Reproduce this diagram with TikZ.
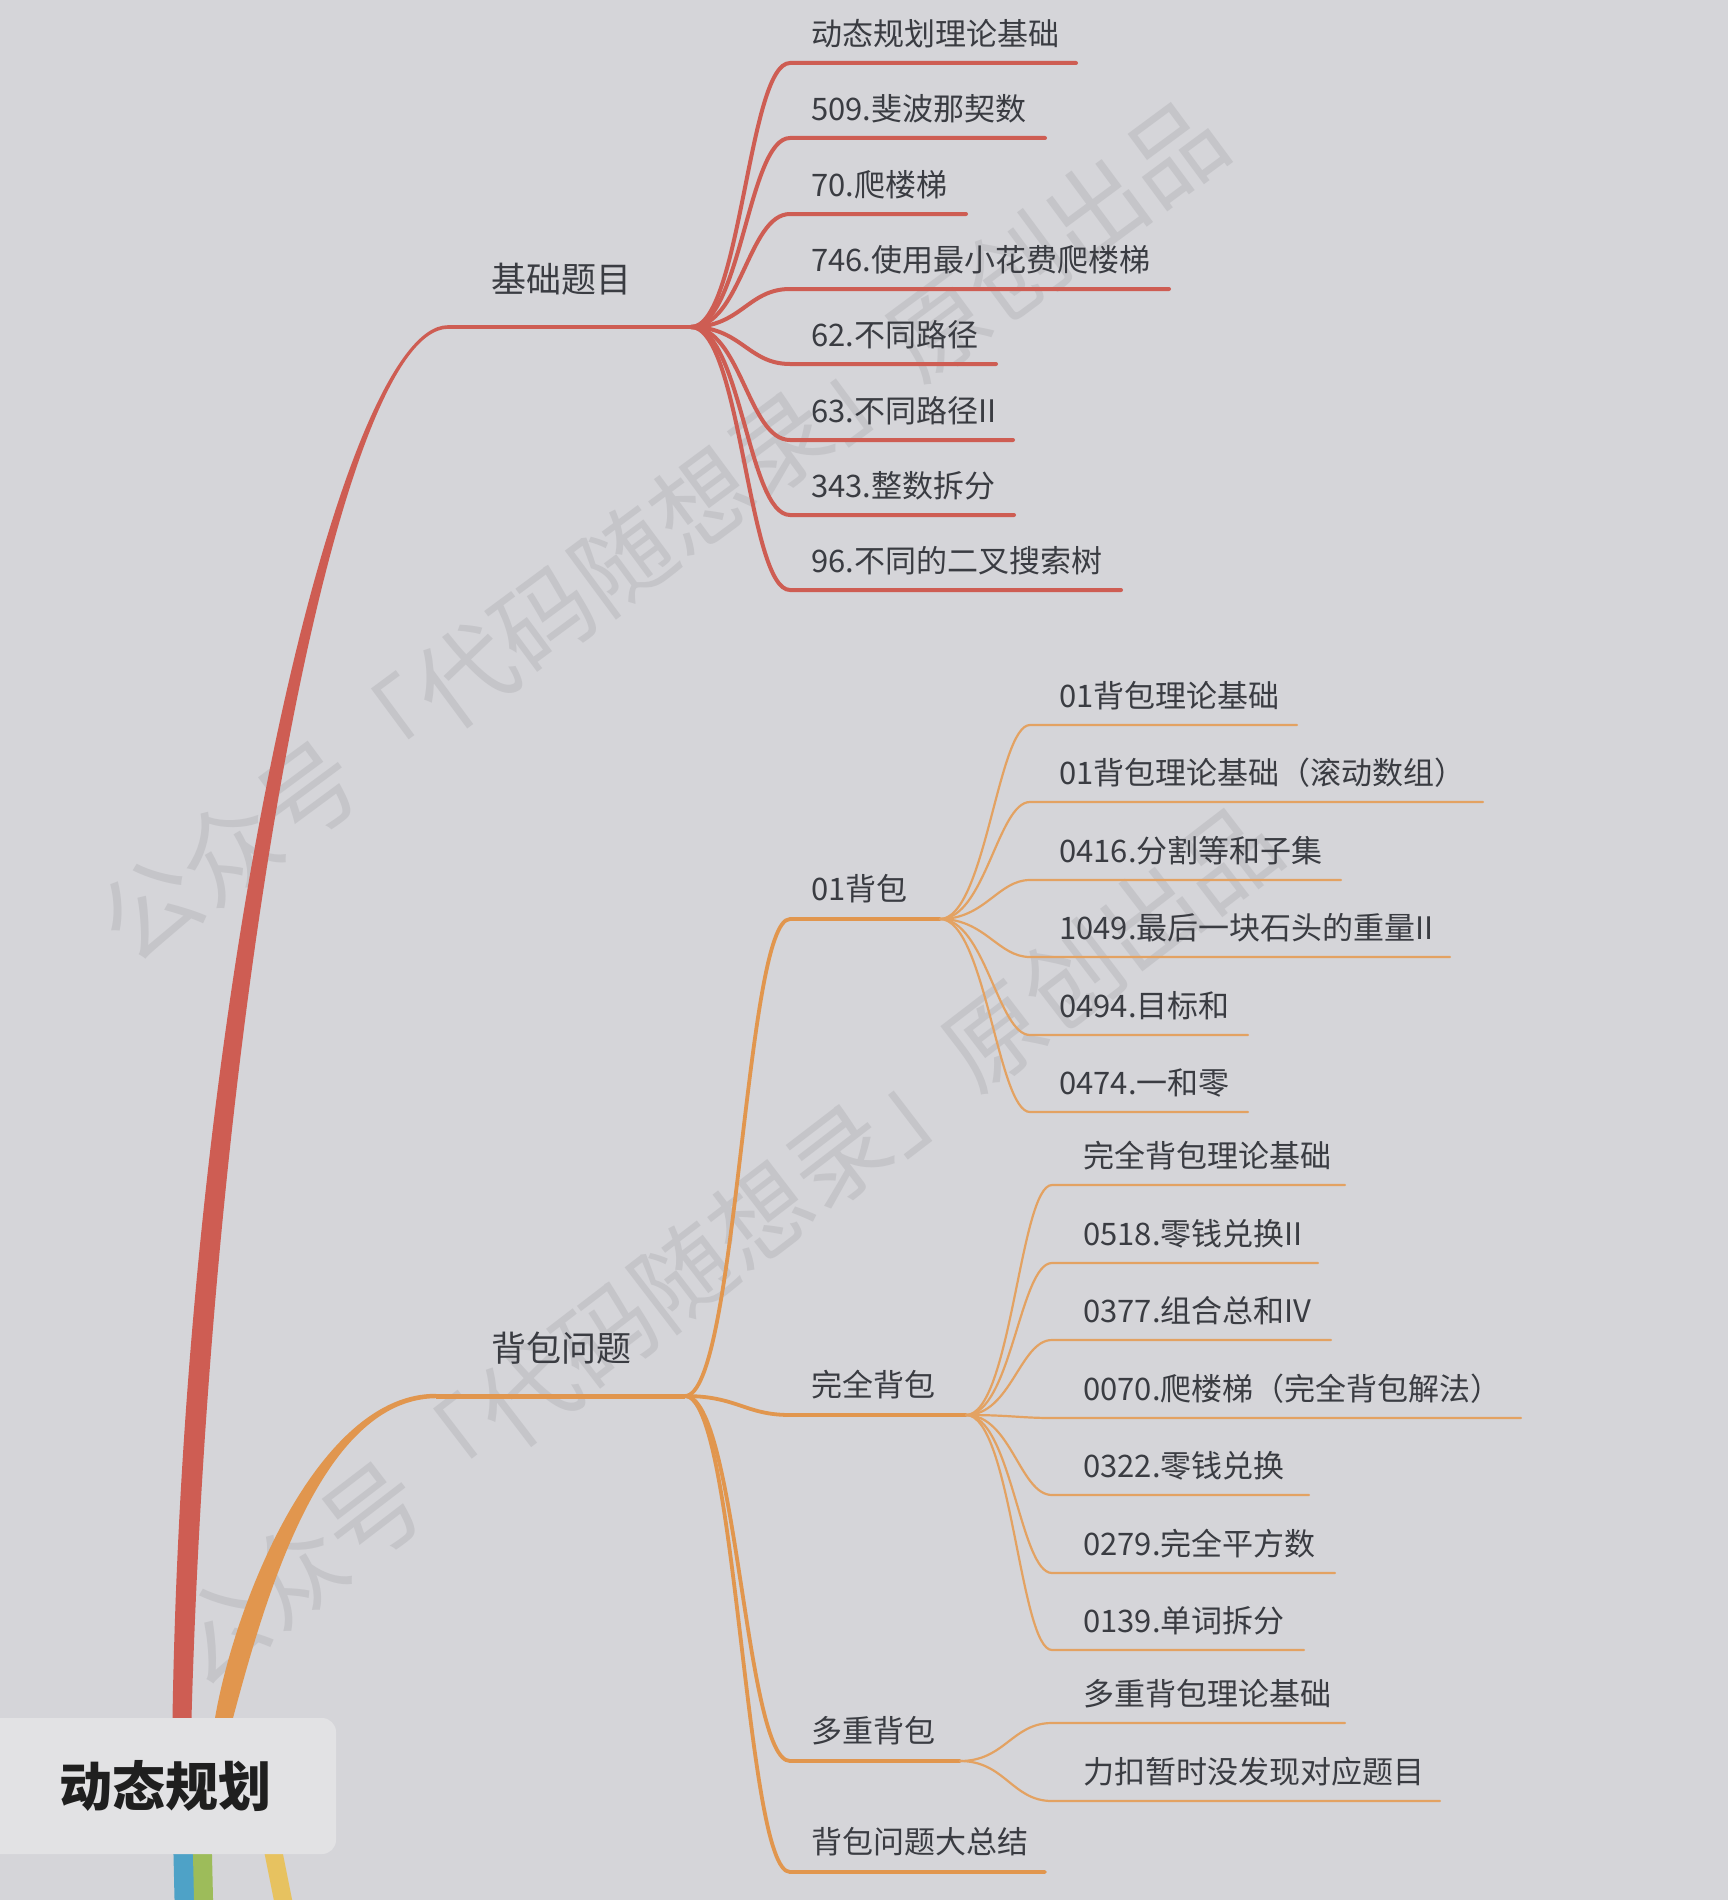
\documentclass[tikz,border=0pt]{standalone}
\usepackage{fontspec}
\setmainfont{Noto Sans CJK SC}
\definecolor{bgc}{RGB}{213,213,217}
\definecolor{redc}{RGB}{206,93,83}
\definecolor{orc}{RGB}{225,150,78}
\definecolor{orl}{RGB}{227,162,98}
\definecolor{txt}{RGB}{58,60,66}
\definecolor{wmc}{RGB}{197,197,201}
\definecolor{rootfill}{RGB}{226,226,228}
\definecolor{bluec}{RGB}{78,162,199}
\definecolor{greenc}{RGB}{157,188,90}
\definecolor{yellowc}{RGB}{231,194,96}
\tikzset{
  lbl/.style={anchor=west, inner sep=0pt, text=txt, font=\fontsize{31}{31}\selectfont},
  lbltwo/.style={anchor=west, inner sep=0pt, text=txt, font=\fontsize{35}{35}\selectfont},
  wm/.style={inner sep=0pt, text=wmc, font=\fontsize{98}{98}\selectfont},
  redsub/.style={draw=redc, line width=4pt, line cap=round},
  redtwo/.style={draw=redc, line width=4.7pt},
  ortwo/.style={draw=orc, line width=5pt},
  orsub/.style={draw=orc, line width=3.8pt, line cap=round},
  orleaf/.style={draw=orl, line width=2.2pt, line cap=round},
  rootbox/.style={fill=rootfill, rounded corners=14pt, inner sep=0pt},
  roottext/.style={inner sep=0pt, text=black!88, font=\fontsize{53}{53}\selectfont\bfseries},
}
\begin{document}
\begin{tikzpicture}[x=1pt,y=-1pt]
\useasboundingbox (0,0) rectangle (1728,1900);
\fill[bgc] (0,0) rectangle (1728,1900);
\begin{scope}
\clip (0,0) rectangle (1728,1900);

% watermarks
\node[wm, rotate=36.5] (wmA) at (662,530) {公众号「代码随想录」原创出品};
\node[wm, rotate=37.5] (wmB) at (722,1245) {公众号「代码随想录」原创出品};

% branches going down below the root
\draw[bluec, line width=20pt] (182,1790) -- (185,1920);
\draw[greenc, line width=19pt] (201,1790) -- (204,1920);
\draw[yellowc, line width=18pt] (261,1790) -- (287,1920);

% main red branch (tapered)
\fill[redc] (172.5,1790) -- (172.5,1718) .. controls (184,1000) and (338,324.5) .. (448,325.2)
  -- (448,328.8) .. controls (338,329.5) and (212,1000) .. (191.5,1718) -- (191.5,1790) -- cycle;
% main orange branch (tapered)
\fill[orc] (215,1790) -- (215,1718) .. controls (236,1597) and (320,1393) .. (436,1393.8)
  -- (436,1398.2) .. controls (320,1399) and (264,1603) .. (233,1718) -- (233,1790) -- cycle;

% level 2
\coordinate (jb) at (448,327);
\coordinate (jh) at (691,327);
\draw[redtwo] (jb) -- (jh);
\node[lbltwo] (jlab) at (491,279) {基础题目};

\coordinate (bb) at (436,1396);
\coordinate (bh) at (685,1396);
\draw[ortwo] (bb) -- (bh);
\node[lbltwo] (blab) at (491,1348) {背包问题};

% red children
\foreach \y/\r/\t [count=\i] in {
  63/1076/动态规划理论基础,
  138/1045/509.斐波那契数,
  214/966/70.爬楼梯,
  289/1169/746.使用最小花费爬楼梯,
  364/996/62.不同路径,
  440/1013/63.不同路径II,
  515/1014/343.整数拆分,
  590/1121/96.不同的二叉搜索树} {
  \coordinate (jc\i) at (790,\y);
  \coordinate (je\i) at (\r,\y);
  \node[lbl] (jt\i) at (811,\y-29.5) {\t};
  \draw[redsub] (jh) .. controls ([xshift=50pt]jh) and ([xshift=-42pt]jc\i) .. (jc\i) -- (je\i);
}

% orange level 3
\foreach \y/\r/\t/\n in {
  919/940/01背包/za,
  1415/966/完全背包/wq,
  1761/960/多重背包/dc,
  1872/1045/背包问题大总结/zj} {
  \coordinate (\n s) at (790,\y);
  \coordinate (\n h) at (\r,\y);
  \node[lbl] (\n t) at (811,\y-30) {\t};
  \draw[orsub] (bh) .. controls ([xshift=52pt]bh) and ([xshift=-45pt]\n s) .. (\n s) -- (\n h);
}

% 01 knapsack children
\foreach \y/\r/\t [count=\i] in {
  725/1297/01背包理论基础,
  802/1483/01背包理论基础（滚动数组）,
  880/1341/0416.分割等和子集,
  957/1450/1049.最后一块石头的重量II,
  1035/1248/0494.目标和,
  1112/1248/0474.一和零} {
  \coordinate (zac\i) at (1030,\y);
  \coordinate (zae\i) at (\r,\y);
  \node[lbl] (zat\i) at (1059,\y-29.5) {\t};
  \draw[orleaf] (zah) .. controls ([xshift=45pt]zah) and ([xshift=-32pt]zac\i) .. (zac\i) -- (zae\i);
}

% complete knapsack children
\foreach \y/\r/\t [count=\i] in {
  1185/1345/完全背包理论基础,
  1263/1318/0518.零钱兑换II,
  1340/1331/0377.组合总和IV,
  1418/1521/0070.爬楼梯（完全背包解法）,
  1495/1309/0322.零钱兑换,
  1573/1335/0279.完全平方数,
  1650/1304/0139.单词拆分} {
  \coordinate (wqc\i) at (1052,\y);
  \coordinate (wqe\i) at (\r,\y);
  \node[lbl] (wqt\i) at (1083,\y-29.5) {\t};
  \draw[orleaf] (wqh) .. controls ([xshift=45pt]wqh) and ([xshift=-32pt]wqc\i) .. (wqc\i) -- (wqe\i);
}

% multiple knapsack children
\foreach \y/\r/\t [count=\i] in {
  1723/1345/多重背包理论基础,
  1801/1440/力扣暂时没发现对应题目} {
  \coordinate (dcc\i) at (1052,\y);
  \coordinate (dce\i) at (\r,\y);
  \node[lbl] (dct\i) at (1083,\y-29.5) {\t};
  \draw[orleaf] (dch) .. controls ([xshift=45pt]dch) and ([xshift=-40pt]dcc\i) .. (dcc\i) -- (dce\i);
}

% root
\node[rootbox, minimum width=376pt, minimum height=136pt] (root) at (148,1786) {};
\node[roottext] (roottxt) at (165,1786) {动态规划};
\end{scope}
\end{tikzpicture}
\end{document}
